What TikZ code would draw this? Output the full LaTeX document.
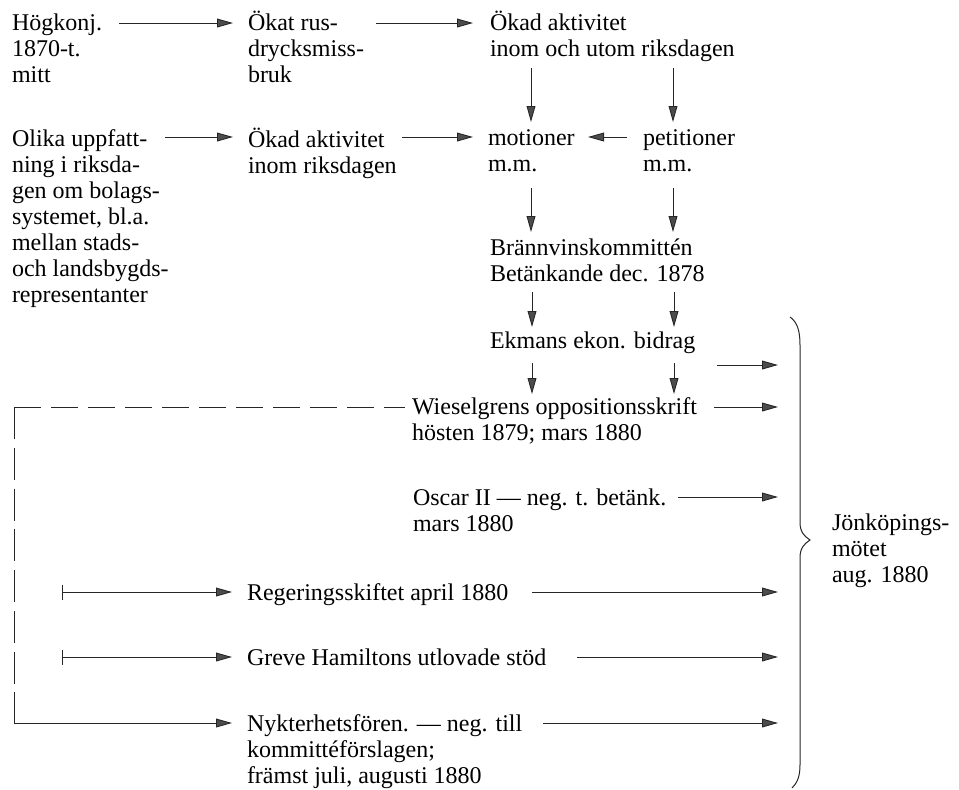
\documentclass[tikz,border=0pt]{standalone}
\usepackage{fontspec}
\setmainfont{Liberation Serif}
\usetikzlibrary{arrows.meta}
\begin{document}
\begin{tikzpicture}[x=0.5pt,y=-0.5pt,
  txt/.style={anchor=base west, inner sep=0pt, outer sep=0pt, align=left, font=\fontsize{12pt}{13pt}\selectfont},
  conn/.style={draw=black!85, line width=0.45pt},
  arr/.style={conn, -{Triangle[length=8pt,width=4.4pt,fill=black!70]}},
  barr/.style={conn, {Bar[width=7.5pt]}-{Triangle[length=8pt,width=4.4pt,fill=black!70]}},
  hdash/.style={conn, dash pattern=on 13.5pt off 5pt},
  vdash/.style={conn, dash pattern=on 16pt off 4.4pt},
]
\useasboundingbox (0,0) rectangle (959,789);

% text nodes (anchored at the baseline of their last line)
\node[txt] (hog)   at (12,82)  {Högkonj.\\1870-t.\\mitt};
\node[txt] (okat)  at (248,82) {Ökat rus-\\drycksmiss-\\bruk};
\node[txt] (okad1) at (490,56) {Ökad aktivitet\\inom och utom riksdagen};
\node[txt] (olika) at (12,302) {Olika uppfatt-\\ning i riksda-\\gen om bolags-\\systemet, bl.a.\\mellan stads-\\och landsbygds-\\representanter};
\node[txt] (okad2) at (248,173) {Ökad aktivitet\\inom riksdagen};
\node[txt] (mot)   at (488,171) {motioner\\m.m.};
\node[txt] (pet)   at (643,171) {petitioner\\m.m.};
\node[txt] (bran)  at (490,281) {Brännvinskommittén\\Betänkande dec. 1878};
\node[txt] (ekm)   at (490,348) {Ekmans ekon. bidrag};
\node[txt] (wie)   at (412,440) {Wieselgrens oppositionsskrift\\hösten 1879; mars 1880};
\node[txt] (osc)   at (413,531) {Oscar II — neg. t. betänk.\\mars 1880};
\node[txt] (reg)   at (247,600) {Regeringsskiftet april 1880};
\node[txt] (gre)   at (247,665) {Greve Hamiltons utlovade stöd};
\node[txt] (nyk)   at (247,783) {Nykterhetsfören. — neg. till\\kommittéförslagen;\\främst juli, augusti 1880};
\node[txt] (jon)   at (832,582) {Jönköpings-\\mötet\\aug. 1880};

% connector end points
\coordinate (h1) at (119,23);  \coordinate (h2) at (233,23);
\coordinate (k1) at (376,23);  \coordinate (k2) at (473,23);
\coordinate (o1) at (165,137); \coordinate (o2) at (233,137);
\coordinate (d1) at (402,137); \coordinate (d2) at (473,137);
\coordinate (p1) at (627,137); \coordinate (p2) at (588,137);
\coordinate (la1) at (531,68);  \coordinate (la2) at (531,122);
\coordinate (ra1) at (673,68);  \coordinate (ra2) at (673,122);
\coordinate (lb1) at (531,188); \coordinate (lb2) at (531,232);
\coordinate (rb1) at (673,188); \coordinate (rb2) at (673,232);
\coordinate (lc1) at (532,292); \coordinate (lc2) at (532,327);
\coordinate (rc1) at (674,292); \coordinate (rc2) at (674,327);
\coordinate (ld1) at (532,363); \coordinate (ld2) at (532,394);
\coordinate (rd1) at (674,363); \coordinate (rd2) at (674,394);
\coordinate (e1) at (717,365); \coordinate (e2) at (778,365);
\coordinate (w1) at (714,407); \coordinate (w2) at (778,407);
\coordinate (s1) at (678,497); \coordinate (s2) at (778,497);
\coordinate (r1) at (532,592); \coordinate (r2) at (778,592);
\coordinate (g1) at (577,657); \coordinate (g2) at (778,657);
\coordinate (n1) at (543,723); \coordinate (n2) at (778,723);
\coordinate (rb) at (62,592);  \coordinate (rbe) at (232,592);
\coordinate (gb) at (62,657);  \coordinate (gbe) at (232,657);
\coordinate (wl) at (405,407); \coordinate (cor) at (14,407);
\coordinate (vd) at (14,692);  \coordinate (nb) at (14,723); \coordinate (nbe) at (232,723);

% arrows
\draw[arr] (h1) -- (h2);
\draw[arr] (k1) -- (k2);
\draw[arr] (o1) -- (o2);
\draw[arr] (d1) -- (d2);
\draw[arr] (p1) -- (p2);
\draw[arr] (la1) -- (la2);
\draw[arr] (ra1) -- (ra2);
\draw[arr] (lb1) -- (lb2);
\draw[arr] (rb1) -- (rb2);
\draw[arr] (lc1) -- (lc2);
\draw[arr] (rc1) -- (rc2);
\draw[arr] (ld1) -- (ld2);
\draw[arr] (rd1) -- (rd2);
\draw[arr] (e1) -- (e2);
\draw[arr] (w1) -- (w2);
\draw[arr] (s1) -- (s2);
\draw[arr] (r1) -- (r2);
\draw[arr] (g1) -- (g2);
\draw[arr] (n1) -- (n2);
\draw[barr] (rb) -- (rbe);
\draw[barr] (gb) -- (gbe);

% dashed feedback line from Wieselgren
\draw[hdash] (cor) -- (wl);
\draw[vdash] (cor) -- (vd);
\draw[arr] (vd) -- (nb) -- (nbe);

% brace
\draw[conn, line width=0.5pt] (790,317) .. controls (797,322) and (800,330) .. (800,345)
  -- (800,522) .. controls (800,532) and (804,536) .. (810,540)
  .. controls (804,544) and (800,548) .. (800,558)
  -- (800,765) .. controls (800,777) and (797,783) .. (792,788);
\end{tikzpicture}
\end{document}
